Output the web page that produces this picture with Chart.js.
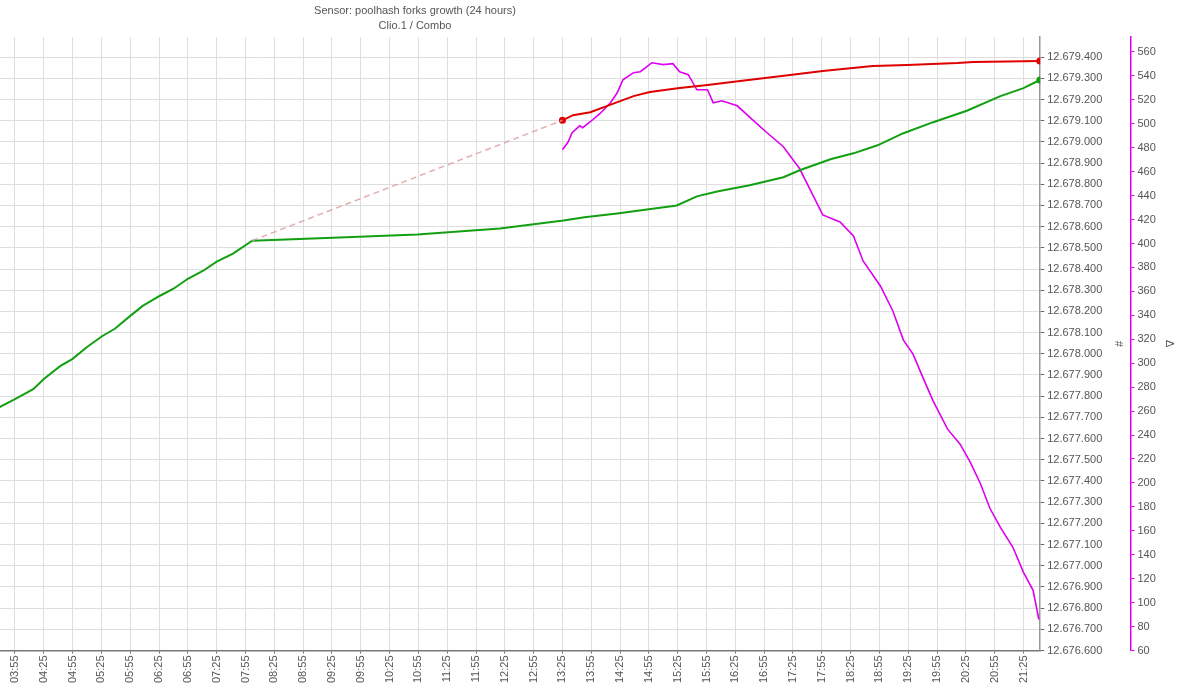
<!DOCTYPE html>
<html>
<head>
<meta charset="utf-8">
<script src="https://cdn.jsdelivr.net/npm/chart.js@4.4.1/dist/chart.umd.min.js"></script>
<style>
  html, body { margin: 0; padding: 0; background: #fff; }
  #wrap { width: 1200px; height: 687px; }
</style>
</head>
<body>
<div id="wrap"><canvas id="chart" width="1200" height="687"></canvas></div>
<script>
// заголовок
const titleLines = ['Sensor: poolhash forks growth (24 hours)', 'Clio.1 / Combo'];

// подписи оси времени
const timeTicks = ['03:55', '04:25', '04:55', '05:25', '05:55', '06:25', '06:55', '07:25', '07:55', '08:25',
    '08:55', '09:25', '09:55', '10:25', '10:55', '11:25', '11:55', '12:25', '12:55', '13:25',
    '13:55', '14:25', '14:55', '15:25', '15:55', '16:25', '16:55', '17:25', '17:55', '18:25',
    '18:55', '19:25', '19:55', '20:25', '20:55', '21:25'];

// подписи оси # 
const countTicks = [12676600, 12676700, 12676800, 12676900, 12677000, 12677100, 12677200, 12677300,
    12677400, 12677500, 12677600, 12677700, 12677800, 12677900, 12678000, 12678100, 12678200,
    12678300, 12678400, 12678500, 12678600, 12678700, 12678800, 12678900, 12679000, 12679100,
    12679200, 12679300, 12679400];

// зелёная линия (#)
const greenTimes = ['03:39', '03:55', '04:14', '04:25', '04:42', '04:55', '05:10', '05:26', '05:39', '05:55',
    '06:08', '06:26', '06:40', '06:55', '07:11', '07:25', '07:42', '08:02', '09:26', '10:54',
    '12:20', '13:26', '13:48', '14:22', '15:24', '15:45', '16:06', '16:40', '17:15', '17:32',
    '18:04', '18:28', '18:53', '19:20', '19:51', '20:26', '21:01', '21:25', '21:42'];
const greenValues = [12677748, 12677786, 12677833, 12677881, 12677942, 12677976, 12678032, 12678084, 12678118, 12678179,
    12678226, 12678274, 12678307, 12678354, 12678392, 12678435, 12678473, 12678534, 12678548, 12678563,
    12678591, 12678629, 12678644, 12678662, 12678700, 12678743, 12678766, 12678795, 12678833, 12678866,
    12678918, 12678946, 12678984, 12679041, 12679093, 12679147, 12679216, 12679254, 12679292];

// красная линия (#)
const redTimes = ['13:25', '13:36', '13:54', '14:11', '14:39', '14:56', '15:27', '15:56', '16:30', '17:22',
    '17:56', '18:48', '19:24', '20:16', '20:33', '21:42'];
const redValues = [12679102, 12679126, 12679140, 12679169, 12679216, 12679235, 12679254, 12679268, 12679287, 12679316,
    12679334, 12679358, 12679363, 12679372, 12679377, 12679382];

// разрыв (пунктир)
const gapTimes = ['08:02', '13:25'];
const gapValues = [12678534, 12679102];

// дельта (Δ)
const deltaTimes = ['13:25', '13:31', '13:35', '13:43', '13:46', '13:54', '14:04', '14:15', '14:22', '14:28',
    '14:39', '14:46', '14:53', '14:58', '15:10', '15:20', '15:27', '15:36', '15:45', '15:56',
    '16:02', '16:11', '16:27', '16:43', '16:58', '17:15', '17:32', '17:43', '17:56', '18:14',
    '18:28', '18:38', '18:56', '19:09', '19:20', '19:30', '19:41', '19:51', '20:06', '20:19',
    '20:29', '20:40', '20:50', '21:01', '21:14', '21:25', '21:35', '21:41'];
const deltaValues = [478.3, 485, 492.5, 498.3, 496.7, 501.7, 508.4, 517.6, 525.9, 536.8,
    542.7, 543.5, 547.7, 551, 549.4, 550.2, 543.5, 541, 528.4, 528.4,
    517.6, 519.2, 515, 503.3, 492.5, 480.8, 462.4, 444.8, 423.9, 418,
    406.3, 385.4, 364.5, 343.6, 319.3, 307.6, 286.7, 268.3, 244.9, 232.3,
    218.1, 199.7, 178.8, 162.9, 146.2, 125.2, 110.2, 85.9];

// подписи оси Δ
const deltaTicks = [60, 80, 100, 120, 140, 160, 180, 200, 220, 240, 260, 280, 300, 320, 340, 360,
    380, 400, 420, 440, 460, 480, 500, 520, 540, 560];

const toMin = s => {
    const p = s.split(':');
    return (+p[0]) * 60 + (+p[1]);
};
const toHHMM = v => {
    const h = Math.floor(v / 60), m = Math.round(v % 60);
    return String(h).padStart(2, '0') + ':' + String(m).padStart(2, '0');
};
const pts = (times, vals) => times.map((t, i) => ({x: toMin(t), y: vals[i]}));
const dots = (r) => ctx => (ctx.dataIndex === 0 || ctx.dataIndex === ctx.dataset.data.length - 1) ? r : 0;

const textColor = '#555';
const font = {family: '"Liberation Sans", Arial, sans-serif', size: 11};

const titlePlugin = {
    id: 'topTitle',
    afterDraw(chart) {
        const c = chart.ctx;
        c.save();
        c.font = '11px "Liberation Sans", Arial, sans-serif';
        c.fillStyle = textColor;
        c.textAlign = 'center';
        c.textBaseline = 'middle';
        c.fillText(titleLines[0], 415, 11);
        c.fillText(titleLines[1], 415, 26);
        c.restore();
    }
};

const ctx = document.getElementById('chart').getContext('2d');
const myChart = new Chart(ctx, {
    type: 'line',
    data: {
        datasets: [
            {
                label: 'gap',
                data: pts(gapTimes, gapValues),
                yAxisID: 'y',
                borderColor: 'rgba(222, 160, 160, 0.85)',
                borderWidth: 1.5,
                borderDash: [6, 4],
                pointRadius: 0,
                tension: 0
            },
            {
                label: 'green',
                data: pts(greenTimes, greenValues),
                yAxisID: 'y',
                borderColor: '#12a012',
                backgroundColor: '#12a012',
                borderWidth: 2,
                pointRadius: ctx => ctx.dataIndex === ctx.dataset.data.length - 1 ? 2.5 : 0,
                tension: 0
            },
            {
                label: 'red',
                data: pts(redTimes, redValues),
                yAxisID: 'y',
                borderColor: '#e00000',
                backgroundColor: '#e00000',
                borderWidth: 2,
                pointRadius: dots(2.5),
                tension: 0
            },
            {
                label: 'delta',
                data: pts(deltaTimes, deltaValues),
                yAxisID: 'y2',
                borderColor: '#dd00ee',
                backgroundColor: '#dd00ee',
                borderWidth: 1.6,
                pointRadius: 0,
                tension: 0
            }
        ]
    },
    options: {
        responsive: false,
        animation: false,
        devicePixelRatio: 1,
        layout: {
            autoPadding: false,
            padding: {top: 37, left: 0, right: 18, bottom: 2}
        },
        plugins: {
            legend: {display: false},
            title: {display: false},
            tooltip: {enabled: false}
        },
        scales: {
            x: {
                type: 'linear',
                min: 219.4,
                max: 1302.4,
                afterBuildTicks: axis => {
                    axis.ticks = timeTicks.map(t => ({value: toMin(t)}));
                },
                afterFit: axis => {
                    axis.paddingLeft = 0;
                    axis.paddingRight = 0;
                },
                ticks: {
                    autoSkip: false,
                    minRotation: 90,
                    maxRotation: 90,
                    padding: 2,
                    color: textColor,
                    font: font,
                    callback: v => toHHMM(v)
                },
                grid: {
                    color: '#dedede',
                    lineWidth: 1,
                    tickColor: '#666',
                    tickLength: 3
                },
                border: {color: '#777', width: 1.5}
            },
            y: {
                position: 'right',
                weight: 0,
                min: 12676600,
                max: 12679495,
                afterBuildTicks: axis => {
                    axis.ticks = countTicks.map(v => ({value: v}));
                },
                ticks: {
                    padding: 3,
                    color: textColor,
                    font: font,
                    callback: v => String(Math.round(v)).replace(/\B(?=(\d{3})+(?!\d))/g, '.')
                },
                grid: {
                    color: '#dedede',
                    lineWidth: 1,
                    tickColor: '#666',
                    tickLength: 4
                },
                border: {color: '#999', width: 1.5},
                title: {
                    display: true,
                    text: '#',
                    color: textColor,
                    font: font,
                    padding: {top: 6, bottom: 6}
                }
            },
            y2: {
                position: 'right',
                weight: 1,
                min: 60,
                max: 572.5,
                afterBuildTicks: axis => {
                    axis.ticks = deltaTicks.map(v => ({value: v}));
                },
                ticks: {
                    padding: 3,
                    color: textColor,
                    font: font
                },
                grid: {
                    drawOnChartArea: false,
                    color: '#dd00ee',
                    tickColor: '#dd00ee',
                    tickLength: 4
                },
                border: {color: '#dd00ee', width: 1.5},
                title: {
                    display: true,
                    text: 'Δ',
                    color: textColor,
                    font: font,
                    padding: {top: 6, bottom: 4}
                }
            }
        }
    },
    plugins: [titlePlugin]
});
</script>
</body>
</html>
